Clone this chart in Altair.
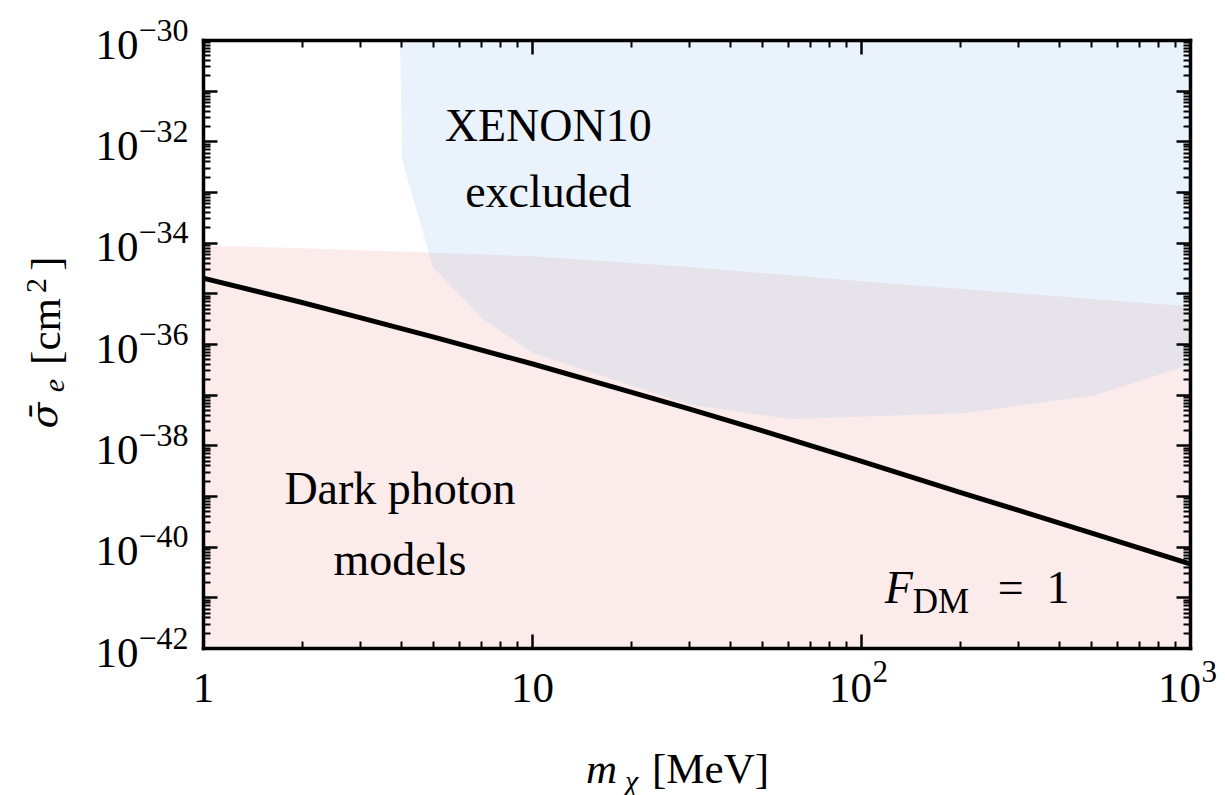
import altair as alt
import pandas as pd

# ---------------- data ----------------
line_mass = [1, 2, 3, 5, 10, 20, 30, 50, 100, 200, 300, 500, 1000]
line_logsig = [-34.70, -35.18, -35.48, -35.86, -36.39, -36.95, -37.28, -37.71,
               -38.31, -38.93, -39.28, -39.73, -40.34]

dp_mass = [1, 3, 10, 30, 100, 300, 1000]
dp_logsig_top = [-34.05, -34.15, -34.27, -34.48, -34.76, -35.00, -35.26]

xe_mass = [3.97, 4.03, 5.0, 7.05, 10.07, 30.2, 60.8, 210, 514, 1000]
xe_logsig_low = [-30.0, -32.37, -34.48, -35.49, -36.18, -37.20, -37.48,
                 -37.36, -37.01, -36.41]

ann_text = ["XENON10", "excluded", "Dark photon", "models"]
ann_mass = [11.2, 11.2, 3.97, 3.97]
ann_logsig = [-32.0, -33.30, -39.16, -40.56]

fdm_parts = ["F", "DM", "=\u20021"]
fdm_mass = [118]
fdm_logsig = [-41.11]

x_label_values = [1, 10, 100, 1000]
x_exp_values = [100, 1000]
y_label_exps = [-42, -40, -38, -36, -34, -32, -30]

x_major = [10.0 ** n for n in range(0, 4)]
x_minor = [k * 10.0 ** n for n in range(0, 3) for k in range(2, 10)]
y_major = [10.0 ** n for n in range(-42, -29)]
y_minor = [k * 10.0 ** n for n in range(-42, -30) for k in range(2, 10)]
y_label_values = [10.0 ** e for e in y_label_exps]

# ---------------- tables ----------------
df_line = pd.DataFrame({"mass": line_mass, "sig": [10.0 ** v for v in line_logsig]})
df_dp = pd.DataFrame({"mass": dp_mass, "sig": [10.0 ** v for v in dp_logsig_top]})
df_xe = pd.DataFrame({"mass": xe_mass, "sig": [10.0 ** v for v in xe_logsig_low]})
df_ann = pd.DataFrame({"mass": ann_mass, "sig": [10.0 ** v for v in ann_logsig],
                       "label": ann_text})
df_fdm = pd.DataFrame({"mass": fdm_mass, "sig": [10.0 ** v for v in fdm_logsig]})

W, H = 987, 608
FONT = "Liberation Serif"

xs = alt.Scale(type="log", domain=[1, 1000], nice=False)
ys = alt.Scale(type="log", domain=[1e-42, 1e-30], nice=False)


def ax(**kw):
    base = dict(grid=False, labels=False, ticks=False, domain=False, title=None,
                tickColor="black", domainColor="black", labelColor="black",
                labelFont=FONT, titleFont=FONT, titleColor="black",
                labelOverlap=False, labelFlush=False, tickSize=0, zindex=1,
                titleFontWeight="normal", titleFontStyle="normal")
    base.update(kw)
    return alt.Axis(**base)


def ytitle(text, size, tx, ty, style="normal", font=FONT):
    return dict(title=text, titleFont=font, titleFontStyle=style, titleFontSize=size,
                titleAngle=270, titleX=tx, titleY=ty, titleAlign="center",
                titleBaseline="alphabetic")


def xtitle(text, size, tx, ty, style="normal"):
    return dict(title=text, titleFontStyle=style, titleFontSize=size,
                titleX=tx, titleY=ty, titleAlign="center", titleBaseline="alphabetic")


# x axes
xa1 = ax(orient="bottom", values=x_label_values, labels=True,
         labelExpr="datum.value == 1 ? '1' : '10'", labelFontSize=43,
         labelPadding=53, labelBaseline="alphabetic", labelAlign="center",
         labelOffset={"condition": {"test": "datum.value >= 100", "value": -11}, "value": 0},
         domain=True, domainWidth=3.5, domainCap="square",
         **xtitle("m", 43, 398, 134, "italic"))
xa2 = ax(orient="bottom", values=x_exp_values, labels=True,
         labelExpr="datum.value == 100 ? '2' : '3'", labelFontSize=31,
         labelPadding=33, labelBaseline="alphabetic", labelAlign="left", labelOffset=11,
         **xtitle("[MeV]", 43, 507, 134))
xa3 = ax(orient="top", offset=-H, values=x_major, ticks=True, tickSize=14, tickWidth=2.5,
         **xtitle("χ", 30, 428, 142, "italic"))
xa4 = ax(orient="top", offset=-H, values=x_minor, ticks=True, tickSize=7, tickWidth=2)
xa5 = ax(orient="bottom", offset=-H, values=x_major, ticks=True, tickSize=14, tickWidth=2.5,
         domain=True, domainWidth=3.5, domainCap="square")
xa6 = ax(orient="bottom", offset=-H, values=x_minor, ticks=True, tickSize=7, tickWidth=2)

# y axes
ya1 = ax(orient="left", values=y_label_values, labels=True, labelExpr="'10'",
         labelFontSize=43, labelPadding=65, labelAlign="right", labelBaseline="alphabetic",
         labelOffset=18, domain=True, domainWidth=3.5, domainCap="square",
         **ytitle("[cm", 43, -144, 291))
ya2 = ax(orient="left", values=y_label_values, labels=True,
         labelExpr="'\u2212' + format(-log(datum.value)/LN10, '.0f')",
         labelFontSize=32, labelPadding=15, labelAlign="right", labelBaseline="alphabetic",
         labelOffset=0,
         **ytitle("σ̄", 38, -147, 375, "italic", "DejaVu Serif"))
ya3 = ax(orient="right", offset=-W, values=y_major, ticks=True, tickSize=14, tickWidth=2.5,
         **ytitle("e", 30, -140, 345, "italic"))
ya4 = ax(orient="right", offset=-W, values=y_minor, ticks=True, tickSize=7, tickWidth=2,
         **ytitle("2", 30, -158, 245))
ya5 = ax(orient="left", offset=-W, values=y_major, ticks=True, tickSize=14, tickWidth=2.5,
         domain=True, domainWidth=3.5, domainCap="square")
ya6 = ax(orient="left", offset=-W, values=y_minor, ticks=True, tickSize=7, tickWidth=2,
         **ytitle("]", 43, -144 - W, 223))


def X(axis):
    return alt.X("mass:Q", scale=xs, axis=axis)


def Y(axis):
    return alt.Y("sig:Q", scale=ys, axis=axis)


red = alt.Chart(df_dp).mark_area(color="#FBEBEB", opacity=1).encode(
    x=X(xa1), y=Y(ya1), y2=alt.Y2Datum(1e-42))

blue = alt.Chart(df_xe).mark_area(color="#96C3EB", opacity=0.2).encode(
    x=X(xa2), y=Y(ya2), y2=alt.Y2Datum(1e-30))

line = alt.Chart(df_line).mark_line(color="black", strokeWidth=5).encode(
    x=X(xa3), y=Y(ya3))

ann = alt.Chart(df_ann).mark_text(font=FONT, fontSize=46, align="center",
                                  baseline="alphabetic", color="black").encode(
    x=X(xa4), y=Y(ya4), text="label:N")

f_txt = alt.Chart(df_fdm).mark_text(font=FONT, fontSize=46, fontStyle="italic",
                                    align="left", baseline="alphabetic",
                                    color="black").encode(
    x=X(xa5), y=Y(ya5), text=alt.value(fdm_parts[0]))

dm_txt = alt.Chart(df_fdm).mark_text(font=FONT, fontSize=35, align="left",
                                     baseline="alphabetic", dx=28, dy=10,
                                     color="black").encode(
    x=X(xa6), y=Y(ya6), text=alt.value(fdm_parts[1]))

eq_txt = alt.Chart(df_fdm).mark_text(font=FONT, fontSize=46, align="left",
                                     baseline="alphabetic", dx=113,
                                     color="black").encode(
    x=X(None), y=Y(None), text=alt.value(fdm_parts[2]))

chart = alt.layer(red, blue, line, ann, f_txt, dm_txt, eq_txt).resolve_axis(
    x="independent", y="independent"
).properties(
    width=W, height=H,
    autosize=alt.AutoSizeParams(type="none"),
    padding={"left": 203, "top": 40, "right": 35, "bottom": 147},
    background="white",
).configure_view(stroke=None)

chart.save("out.html", embed_options={"renderer": "svg", "actions": False})
